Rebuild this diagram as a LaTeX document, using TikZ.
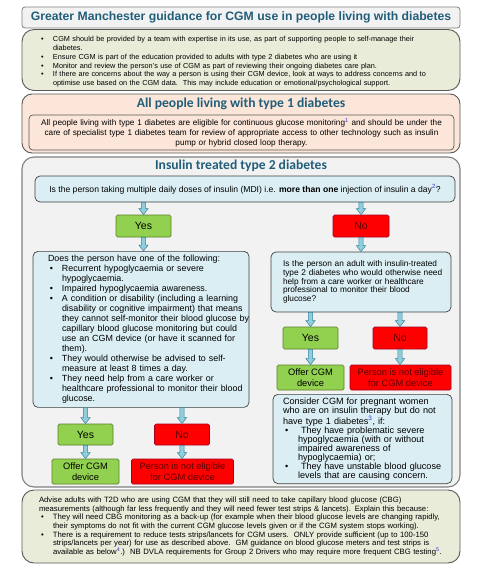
\documentclass[tikz,border=0pt]{standalone}
\usepackage{fontspec}
\setmainfont{Liberation Sans}
\newfontfamily\headfont{Carlito}
\usetikzlibrary{calc}

\definecolor{headteal}{HTML}{215E7A}
\definecolor{panelgray}{HTML}{595959}
\definecolor{titlegray}{HTML}{F2F2F2}
\definecolor{notegreen}{HTML}{E8ECD9}
\definecolor{t1peach}{HTML}{FBE6D9}
\definecolor{qblue}{HTML}{DAEEF3}
\definecolor{boxgray}{HTML}{404040}
\definecolor{yesgreen}{HTML}{92D050}
\definecolor{yesedge}{HTML}{5E7F2A}
\definecolor{nored}{HTML}{FF0000}
\definecolor{noedge}{HTML}{A50021}
\definecolor{notext}{HTML}{5A0000}
\definecolor{flowfill}{HTML}{92CDDC}
\definecolor{flowedge}{HTML}{31859C}
\definecolor{fnblue}{HTML}{3333CC}

% bullet line with hanging indent
\newcommand\bitem[1][14pt]{\par\hangindent=#1\hangafter=1\noindent\hbox to #1{\hskip2pt\textbullet\hfil}}
\newcommand\fnref[1]{\textsuperscript{\color{fnblue}#1}}
% left pad inside a box, lines may run a little past the right edge
\newcommand\padtext[1]{\leftskip=#1\relax\rightskip=-12pt plus 3em\relax\hyphenpenalty=10000\relax}

\begin{document}
\begin{tikzpicture}
  [x=1pt,y=-1pt,
   panel/.style={draw=panelgray,line width=0.9pt,rounded corners=12pt,minimum width=438pt},
   notebox/.style={panel,fill=notegreen,text width=404pt,inner xsep=17pt,align=left,
     font=\fontsize{7.3}{8.8}\selectfont},
   qbox/.style={draw=boxgray,fill=qblue,line width=0.7pt,rounded corners=5pt,align=left},
   yesbox/.style={draw=yesedge,fill=yesgreen,line width=0.7pt,rounded corners=1.5pt,
     align=center,inner sep=0pt,font=\fontsize{10.5}{11}\selectfont},
   nobox/.style={yesbox,draw=noedge,fill=nored,text=notext},
   resbox/.style={font=\fontsize{9.3}{10.6}\selectfont,minimum height=25pt},
   headline/.style={font=\headfont\bfseries\fontsize{13.6}{15}\selectfont,text=headteal},
   flow/.style={draw=flowedge,fill=flowfill,line width=0.5pt,
     to path={let \p1=(\tikztostart), \p2=(\tikztotarget) in
       (\x1-2.2pt,\y1) -- (\x1+2.2pt,\y1) -- (\x1+2.2pt,\y2+6pt) -- (\x1+4.6pt,\y2+6pt)
       -- (\x1,\y2) -- (\x1-4.6pt,\y2+6pt) -- (\x1-2.2pt,\y2+6pt) -- cycle}}]
  \useasboundingbox (0,0) rectangle (484,571);

  % heading
  \node[draw=gray,fill=titlegray,line width=0.8pt,rounded corners=3pt,minimum width=438pt,
    minimum height=21pt,text=headteal,font=\bfseries\fontsize{12.2}{14}\selectfont]
    (title) at (241,17.5) {Greater Manchester guidance for CGM use in people living with diabetes};

  \node[notebox,minimum height=60pt] (intro) at (241,60) {%
    \bitem CGM should be provided by a team with expertise in its use, as part of supporting people to self-manage their\newline diabetes.
    \bitem Ensure CGM is part of the education provided to adults with type 2 diabetes who are using it
    \bitem Monitor and review the person's use of CGM as part of reviewing their ongoing diabetes care plan.
    \bitem If there are concerns about the way a person is using their CGM device, look at ways to address concerns and to\newline optimise use based on the CGM data.\ \ This may include education or emotional/psychological support.\par};

  % type 1
  \node[panel,fill=t1peach,rounded corners=10pt,minimum height=59pt] (t1) at (241,123.5) {};
  \node[headline] (t1head) at (241,104) {All people living with type 1 diabetes};
  \node[draw=panelgray,fill=t1peach,line width=0.7pt,rounded corners=4pt,minimum width=425pt,
    minimum height=33pt,text width=421pt,inner xsep=2pt,align=center,
    font=\fontsize{8.2}{10}\selectfont] (t1text) at (241.5,132.5)
    {All people living with type 1 diabetes are eligible for continuous glucose monitoring\fnref{1} and should be under the\\
     care of specialist type 1 diabetes team for review of appropriate access to other technology such as insulin\\
     pump or hybrid closed loop therapy.};

  % type 2
  \node[panel,draw=gray,line width=1.1pt,fill=titlegray,minimum height=330pt] (t2) at (241,322) {};
  \node[headline] (t2head) at (241,166) {Insulin treated type 2 diabetes};
  \node[qbox,minimum width=420pt,minimum height=26pt,align=center,font=\fontsize{8.6}{9}\selectfont]
    (mdi) at (245,189) {Is the person taking multiple daily doses of insulin (MDI) i.e. \textbf{more than one} injection of insulin a day\fnref{2}?};

  \node[yesbox,minimum width=55pt,minimum height=22pt] (yes1) at (143.5,226) {Yes};
  \node[nobox,minimum width=56pt,minimum height=22pt] (no1) at (361,226) {No};

  \node[qbox,anchor=north,minimum width=216pt,minimum height=156pt,text width=200pt,inner xsep=8pt,
    font=\fontsize{8.9}{10}\selectfont] (criteria) at (141,251) {\padtext{7pt}%
    Does the person have one of the following:
    \bitem Recurrent hypoglycaemia or severe\newline hypoglycaemia.
    \bitem Impaired hypoglycaemia awareness.
    \bitem A condition or disability (including a learning\newline disability or cognitive impairment) that means\newline they cannot self-monitor their blood glucose by\newline capillary blood glucose monitoring but could\newline use an CGM device (or have it scanned for\newline them).
    \bitem They would otherwise be advised to self-\newline measure at least 8 times a day.
    \bitem They need help from a care worker or\newline healthcare professional to monitor their blood\newline glucose.\par};

  \node[qbox,minimum width=180pt,minimum height=60pt,text width=172pt,inner xsep=4pt,
    font=\fontsize{8.3}{8.7}\selectfont] (q2) at (361,282)
    {\padtext{8pt}Is the person an adult with insulin-treated\newline type 2 diabetes who would otherwise need\newline help from a care worker or healthcare\newline professional to monitor their blood\newline glucose?\par};

  \node[yesbox,minimum width=55pt,minimum height=22pt] (yes2) at (310.5,338) {Yes};
  \node[nobox,minimum width=54pt,minimum height=22pt] (no2) at (400,338) {No};
  \node[yesbox,resbox,minimum width=67pt] (offer2) at (310.5,377.5) {Offer CGM\\ device};
  \node[nobox,resbox,minimum width=101pt] (noelig2) at (400.5,377.5) {Person is not eligible\\ for CGM device};

  \node[qbox,minimum width=179pt,minimum height=86pt,text width=171pt,inner xsep=4pt,
    font=\fontsize{9.1}{9}\selectfont] (preg) at (362.5,439) {\padtext{6pt}%
    Consider CGM for pregnant women\newline who are on insulin therapy but do not\newline have type 1 diabetes\fnref{3}, if:
    \bitem[15pt] They have problematic severe\newline hypoglycaemia (with or without\newline impaired awareness of\newline hypoglycaemia) or;
    \bitem[15pt] They have unstable blood glucose\newline levels that are causing concern.\par};

  \node[yesbox,minimum width=55pt,minimum height=21pt] (yes3) at (85.5,434.5) {Yes};
  \node[nobox,minimum width=55pt,minimum height=21pt] (no3) at (182,434.5) {No};
  \node[yesbox,resbox,minimum width=67pt] (offer3) at (85.5,471.5) {Offer CGM\\ device};
  \node[nobox,resbox,minimum width=102pt] (noelig3) at (182.5,471.5) {Person is not eligible\\ for CGM device};

  % arrows
  \draw[flow] (mdi.south -| yes1.north) to (yes1.north);
  \draw[flow] (mdi.south -| no1.north) to (no1.north);
  \draw[flow] (yes1.south) to (yes1.south |- criteria.north);
  \draw[flow] (no1.south) to (no1.south |- q2.north);
  \draw[flow] (q2.south -| yes2.north) to (yes2.north);
  \draw[flow] (q2.south -| no2.north) to (no2.north);
  \draw[flow] (yes2.south) to (yes2.south |- offer2.north);
  \draw[flow] (no2.south) to (no2.south |- noelig2.north);
  \draw[flow] (criteria.south -| yes3.north) to (yes3.north);
  \draw[flow] (criteria.south -| no3.north) to (no3.north);
  \draw[flow] (yes3.south) to (yes3.south |- offer3.north);
  \draw[flow] (no3.south) to (no3.south |- noelig3.north);

  % testing advice
  \node[notebox,minimum height=73pt,font=\fontsize{7.7}{8.6}\selectfont] (advice) at (241,526.5) {%
    Advise adults with T2D who are using CGM that they will still need to take capillary blood glucose (CBG)\\
    measurements (although far less frequently and they will need fewer test strips \& lancets). Explain this because:
    \bitem They will need CBG monitoring as a back-up (for example when their blood glucose levels are changing rapidly,\newline their symptoms do not fit with the current CGM glucose levels given or if the CGM system stops working).
    \bitem There is a requirement to reduce tests strips/lancets for CGM users.\ \ ONLY provide sufficient (up to 100-150\newline strips/lancets per year) for use as described above.\ \ GM guidance on blood glucose meters and test strips is\newline available as below\fnref{4}.)\ \ NB DVLA requirements for Group 2 Drivers who may require more frequent CBG testing\fnref{5}.\par};
\end{tikzpicture}
\end{document}
